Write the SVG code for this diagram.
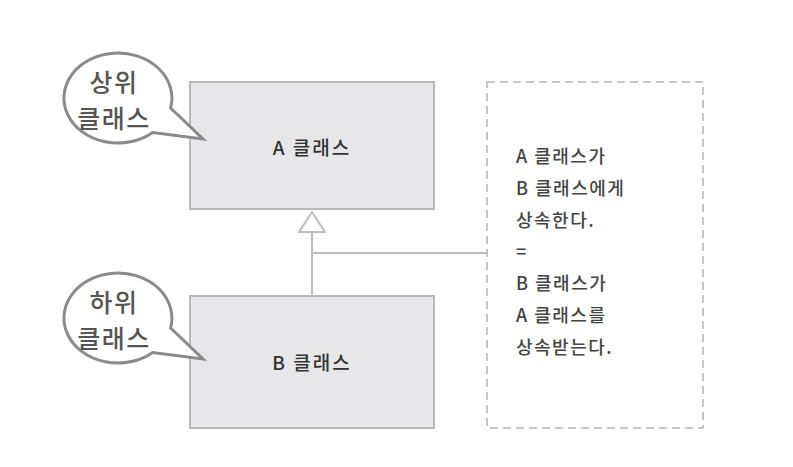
<svg xmlns="http://www.w3.org/2000/svg" width="793" height="467" viewBox="0 0 793 467">
<style>
.box{fill:#e7e7e9;stroke:#b9b9bb;stroke-width:2}
.bub{fill:#fff;stroke:#8a8a8a;stroke-width:3;stroke-linejoin:miter}
.bt{font-family:"Noto Sans CJK KR","Noto Sans",sans-serif;font-size:25px;font-weight:500;fill:#555;text-anchor:middle;letter-spacing:1.5px}
.nt{font-family:"Noto Sans CJK KR","Noto Sans",sans-serif;font-size:19px;font-weight:500;fill:#333;text-anchor:middle;letter-spacing:2px}
.rt{font-family:"Noto Sans CJK KR","Noto Sans",sans-serif;font-size:18px;font-weight:500;fill:#444;letter-spacing:1.5px}
.ln{fill:none;stroke:#bdbdbd;stroke-width:2}
</style>
<rect width="793" height="467" fill="#fff"/>
<g id="connectors">
<polygon class="ln" points="312,212 299,232 325,232" fill="#fff"/>
<line class="ln" x1="312" y1="232" x2="312" y2="296"/>
<line class="ln" x1="312" y1="253" x2="487" y2="253"/>
</g>
<g id="classA">
<rect class="box" x="190" y="82" width="244" height="127"/>
<text class="nt" x="312" y="155">A 클래스</text>
</g>
<g id="classB">
<rect class="box" x="190" y="296" width="244" height="132"/>
<text class="nt" x="312" y="370">B 클래스</text>
</g>
<g id="note">
<rect x="487" y="82" width="216" height="346" fill="none" stroke="#b5b5b5" stroke-width="1.5" stroke-dasharray="8,5"/>
<text class="rt" x="516" y="163">A 클래스가</text>
<text class="rt" x="516" y="195">B 클래스에게</text>
<text class="rt" x="516" y="227">상속한다.</text>
<text class="rt" x="516" y="258">=</text>
<text class="rt" x="516" y="290">B 클래스가</text>
<text class="rt" x="516" y="322">A 클래스를</text>
<text class="rt" x="516" y="354">상속받는다.</text>
</g>
<g id="bubbleSuper">
<path class="bub" d="M170.6 108 L203 139 L152.7 132.5 A54 45 0 1 1 170.6 108 Z"/>
<text class="bt" x="114" y="92">상위</text>
<text class="bt" x="114" y="128">클래스</text>
</g>
<g id="bubbleSub">
<path class="bub" d="M170.6 328 L203 359 L152.7 352.5 A54 45 0 1 1 170.6 328 Z"/>
<text class="bt" x="114" y="312">하위</text>
<text class="bt" x="114" y="348">클래스</text>
</g>
</svg>
